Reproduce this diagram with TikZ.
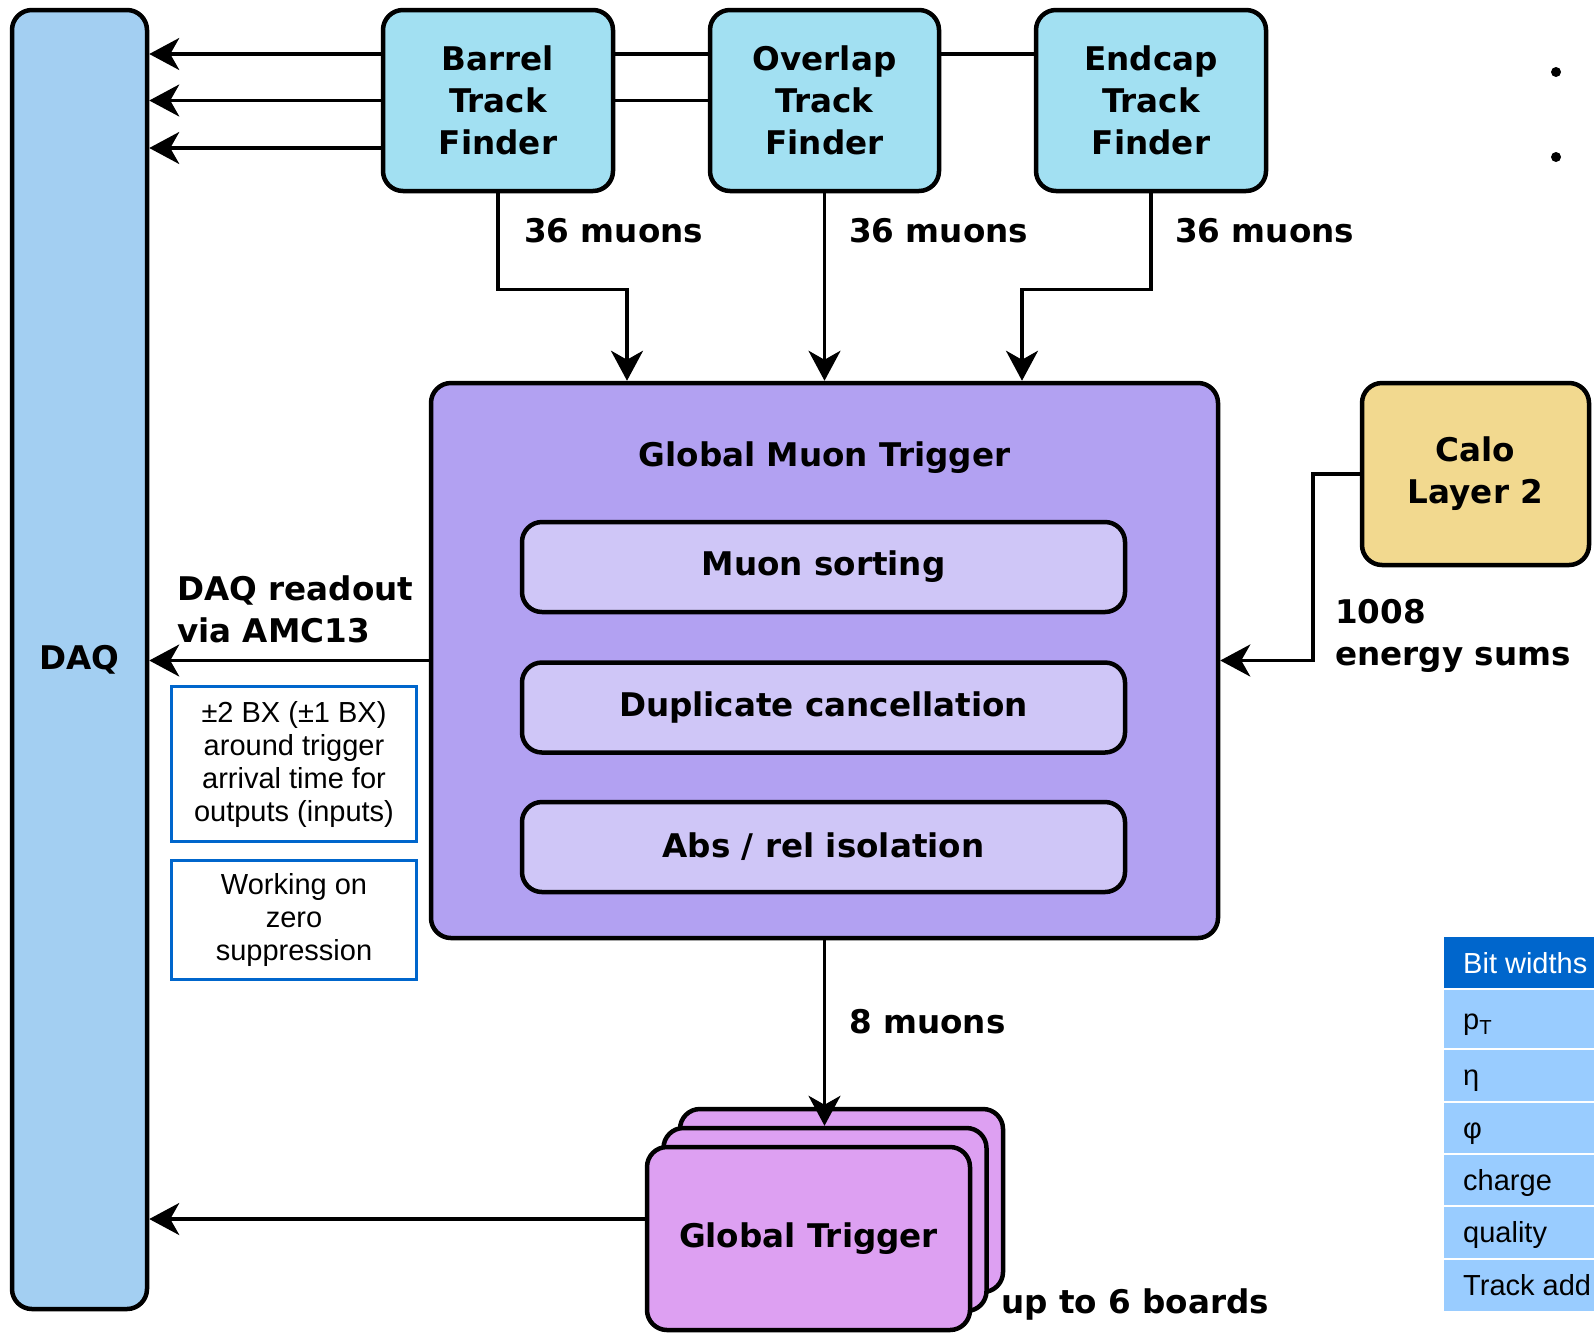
\documentclass[tikz,border=0pt]{standalone}
\usepackage{fontspec}
\setmainfont{DejaVu Sans}
\newfontfamily\arialf{Liberation Sans}
\usetikzlibrary{arrows.meta,calc}
\definecolor{daqc}{HTML}{A3CFF2}
\definecolor{tfc}{HTML}{A2E0F2}
\definecolor{gmtc}{HTML}{B2A1F2}
\definecolor{innc}{HTML}{CFC6F7}
\definecolor{caloc}{HTML}{F2D98F}
\definecolor{gtc}{HTML}{DDA0F2}
\definecolor{bluec}{HTML}{0066CC}
\definecolor{rowc}{HTML}{99CCFF}
\begin{document}
\begin{tikzpicture}[x=1pt,y=-1pt,
  blk/.style={draw=black, line width=4.5pt, rounded corners=20pt, inner sep=0pt, align=center,
    font=\bfseries\fontsize{32.6}{42}\selectfont},
  lbl/.style={inner sep=0pt, align=left, font=\bfseries\fontsize{32.6}{42}\selectfont},
  note/.style={draw=bluec, line width=3pt, inner sep=0pt, align=center,
    font=\arialf\fontsize{29}{33}\selectfont},
  ttxt/.style={inner sep=0pt, anchor=base west, font=\arialf\fontsize{29}{33}\selectfont},
  arr/.style={line width=3.5pt, -{Stealth[length=30pt,width=32pt,inset=9pt]}},
  ln/.style={line width=3.5pt}
]
\useasboundingbox (0,0) rectangle (1594,1334);

% main boxes
\node[blk, fill=daqc, minimum width=135, minimum height=1299] (daq) at (79.5,659.5) {DAQ};
\node[blk, fill=tfc, minimum width=230, minimum height=181] (barrel) at (498,100.5) {Barrel\\Track\\Finder};
\node[blk, fill=tfc, minimum width=229, minimum height=181] (overlap) at (824.5,100.5) {Overlap\\Track\\Finder};
\node[blk, fill=tfc, minimum width=230, minimum height=181] (endcap) at (1151,100.5) {Endcap\\Track\\Finder};
\node[blk, fill=gmtc, minimum width=787, minimum height=555] (gmt) at (824.5,660.5) {};
\node[lbl] (gmttitle) at (824.5,458) {Global Muon Trigger};
\node[blk, fill=innc, minimum width=603, minimum height=90] (sort) at (823.5,567) {Muon sorting};
\node[blk, fill=innc, minimum width=603, minimum height=90] (dup) at (823.5,707.5) {Duplicate cancellation};
\node[blk, fill=innc, minimum width=603, minimum height=90] (iso) at (823.5,847) {Abs / rel isolation};
\node[blk, fill=caloc, minimum width=227, minimum height=182] (calo) at (1475.5,474) {Calo\\Layer 2};

% global trigger stack
\node[blk, fill=gtc, minimum width=323, minimum height=183] (gtb) at (841.5,1200.5) {};
\node[blk, fill=gtc, minimum width=323, minimum height=183] (gtm) at (825,1219.5) {};
\node[blk, fill=gtc, minimum width=323, minimum height=183] (gtf) at (808.5,1238.5) {Global Trigger};

% notes
\node[note, minimum width=245, minimum height=155] (note1) at (294,764) {±2 BX (±1 BX)\\around trigger\\arrival time for\\outputs (inputs)};
\node[note, minimum width=245, minimum height=119] (note2) at (294,920) {Working on\\zero\\suppression};

% labels
\node[lbl, anchor=west] (l1) at (524,231) {36 muons};
\node[lbl, anchor=west] (l2) at (849,231) {36 muons};
\node[lbl, anchor=west] (l3) at (1175,231) {36 muons};
\node[lbl, anchor=west] (l4) at (177,609) {DAQ readout\\via AMC13};
\node[lbl, anchor=west] (l5) at (1335,635.5) {1008\\energy sums};
\node[lbl, anchor=west] (l6) at (849,1022) {8 muons};
\node[lbl, anchor=west] (l7) at (1001,1304) {up to 6 boards};

% connectors: track finders to DAQ
\coordinate (bw1) at ([yshift=46.5pt]barrel.west);
\coordinate (bw3) at ([yshift=-47.5pt]barrel.west);
\draw[arr] (bw1) -- (bw1 -| daq.east);
\draw[arr] (barrel.west) -- (barrel.west -| daq.east);
\draw[arr] (bw3) -- (bw3 -| daq.east);
\coordinate (be1) at ([yshift=46.5pt]barrel.east);
\coordinate (oe1) at ([yshift=46.5pt]overlap.east);
\draw[ln] (be1) -- (be1 -| overlap.west);
\draw[ln] (barrel.east) -- (overlap.west);
\draw[ln] (oe1) -- (oe1 -| endcap.west);

% track finders to GMT
\coordinate (gin1) at ([xshift=-197.5pt]gmt.north);
\coordinate (gin3) at ([xshift=197.5pt]gmt.north);
\draw[arr] (barrel.south) -- ++(0,96) -| (gin1);
\draw[arr] (overlap.south) -- (overlap.south |- gmt.north);
\draw[arr] (endcap.south) -- ++(0,96) -| (gin3);

% calo to GMT
\draw[arr] (calo.west) -- ++(-47,0) |- (gmt.east);

% GMT to DAQ, GMT to GT, GT to DAQ
\draw[arr] (gmt.west) -- (gmt.west -| daq.east);
\draw[arr] (gmt.south) -- (gmt.south |- gtm.north);
\coordinate (gtl) at ([yshift=19.5pt]gtf.west);
\draw[arr] (gtl) -- (gtl -| daq.east);

% bullet dots
\fill (1556,72) circle (5);
\fill (1556,157) circle (5);

% bit width table
\fill[bluec] (1444,937) rectangle (1594,989);
\fill[rowc] (1444,989) rectangle (1594,1311);
\foreach \yy in {989,1049,1102,1154,1206,1259}
  \draw[white, line width=1.5pt] (1444,\yy) -- (1594,\yy);
\node[ttxt, text=white] (t0) at (1463,973) {Bit widths};
\node[ttxt] (t1) at (1463,1029) {p\textsubscript{T}};
\node[ttxt] (t2) at (1463,1085) {η};
\node[ttxt] (t3) at (1463,1138) {φ};
\node[ttxt] (t4) at (1463,1190) {charge};
\node[ttxt] (t5) at (1463,1242) {quality};
\node[ttxt] (t6) at (1463,1295) {Track add};
\end{tikzpicture}
\end{document}
